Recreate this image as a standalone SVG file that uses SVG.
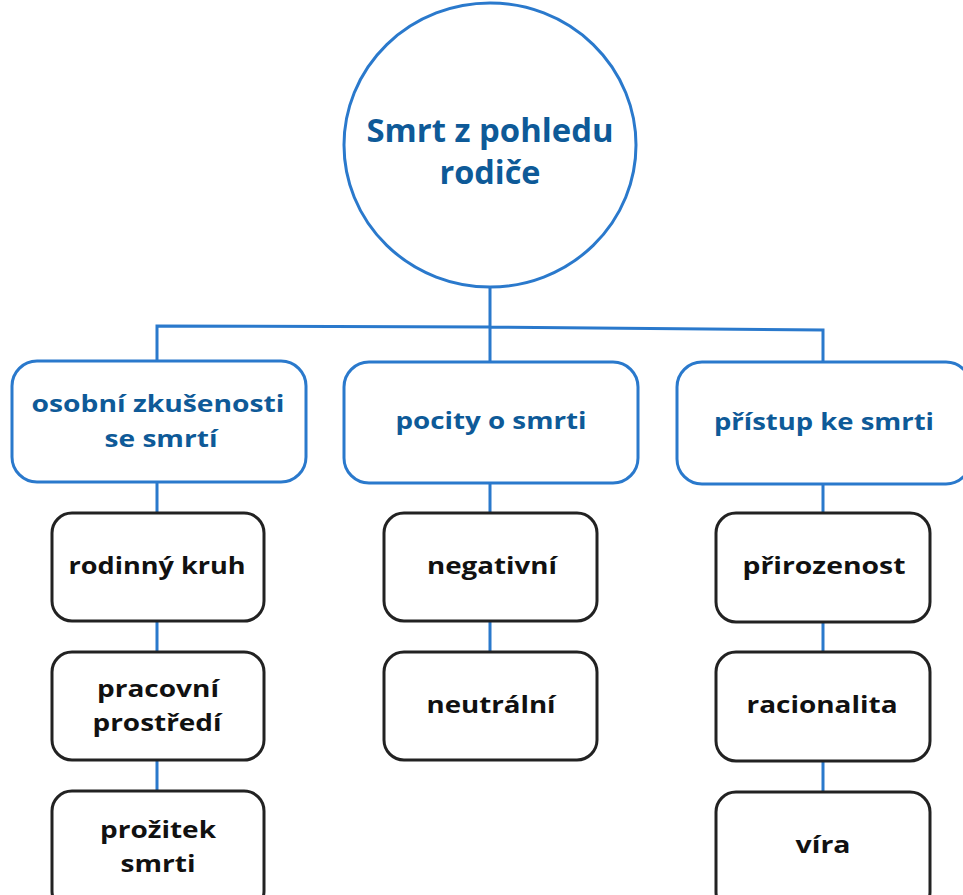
<svg xmlns="http://www.w3.org/2000/svg" width="963" height="895" viewBox="0 0 963 895">
<style>
.conn{fill:none;stroke:#2a79cc;stroke-width:3}
.root{fill:#fff;stroke:#2a79cc;stroke-width:3}
.cat{fill:#fff;stroke:#2a79cc;stroke-width:3}
.leaf{fill:#fff;stroke:#222;stroke-width:3}
.tb{font-family:"Open Sans","Noto Sans",sans-serif;font-weight:700;text-anchor:middle;fill:#0e5a98}
.tk{font-family:"Open Sans","Noto Sans",sans-serif;font-weight:700;text-anchor:middle;fill:#111;font-size:24px}
</style>
<rect width="963" height="895" fill="#fff"/>
<g id="connectors">
<path class="conn" d="M490,287 V362 M157,362 V326 L490,327 L823,330 V362"/>
<path class="conn" d="M157,482 V512 M157,621 V652 M157,760 V791"/>
<path class="conn" d="M490,483 V512 M490,621 V652"/>
<path class="conn" d="M823,484 V513 M823,622 V652 M823,761 V792"/>
</g>
<g id="root">
<ellipse class="root" cx="490" cy="145" rx="146" ry="142"/>
<text class="tb" x="490" y="142" font-size="33" textLength="247" lengthAdjust="spacingAndGlyphs">Smrt z pohledu</text>
<text class="tb" x="490" y="184" font-size="33" textLength="101" lengthAdjust="spacingAndGlyphs">rodiče</text>
</g>
<g id="cat1">
<rect class="cat" x="12" y="361" width="294" height="121" rx="25"/>
<text class="tb" x="158" y="412" font-size="24" textLength="253" lengthAdjust="spacingAndGlyphs">osobní zkušenosti</text>
<text class="tb" x="161" y="447" font-size="24" textLength="113" lengthAdjust="spacingAndGlyphs">se smrtí</text>
</g>
<g id="cat2">
<rect class="cat" x="344" y="362" width="294" height="121" rx="25"/>
<text class="tb" x="491" y="429" font-size="24" textLength="191" lengthAdjust="spacingAndGlyphs">pocity o smrti</text>
</g>
<g id="cat3">
<rect class="cat" x="677" y="362" width="294" height="122" rx="25"/>
<text class="tb" x="824" y="430" font-size="24" textLength="220" lengthAdjust="spacingAndGlyphs">přístup ke smrti</text>
</g>
<g id="leaf-rodinny">
<rect class="leaf" x="52" y="513" width="212" height="108" rx="20"/>
<text class="tk" x="157" y="574" textLength="177" lengthAdjust="spacingAndGlyphs">rodinný kruh</text>
</g>
<g id="leaf-pracovni">
<rect class="leaf" x="52" y="652" width="212" height="108" rx="20"/>
<text class="tk" x="158" y="697" textLength="122" lengthAdjust="spacingAndGlyphs">pracovní</text>
<text class="tk" x="157" y="731" textLength="129" lengthAdjust="spacingAndGlyphs">prostředí</text>
</g>
<g id="leaf-prozitek">
<rect class="leaf" x="52" y="791" width="212" height="120" rx="20"/>
<text class="tk" x="158" y="838" textLength="116" lengthAdjust="spacingAndGlyphs">prožitek</text>
<text class="tk" x="158" y="872" textLength="75" lengthAdjust="spacingAndGlyphs">smrti</text>
</g>
<g id="leaf-negativni">
<rect class="leaf" x="384" y="513" width="213" height="108" rx="20"/>
<text class="tk" x="492" y="574" textLength="130" lengthAdjust="spacingAndGlyphs">negativní</text>
</g>
<g id="leaf-neutralni">
<rect class="leaf" x="384" y="652" width="213" height="108" rx="20"/>
<text class="tk" x="491" y="713" textLength="129" lengthAdjust="spacingAndGlyphs">neutrální</text>
</g>
<g id="leaf-prirozenost">
<rect class="leaf" x="716" y="513" width="214" height="109" rx="20"/>
<text class="tk" x="824" y="574" textLength="163" lengthAdjust="spacingAndGlyphs">přirozenost</text>
</g>
<g id="leaf-racionalita">
<rect class="leaf" x="716" y="652" width="214" height="109" rx="20"/>
<text class="tk" x="822" y="713" textLength="151" lengthAdjust="spacingAndGlyphs">racionalita</text>
</g>
<g id="leaf-vira">
<rect class="leaf" x="716" y="792" width="214" height="120" rx="20"/>
<text class="tk" x="823" y="853" textLength="55" lengthAdjust="spacingAndGlyphs">víra</text>
</g>
</svg>
